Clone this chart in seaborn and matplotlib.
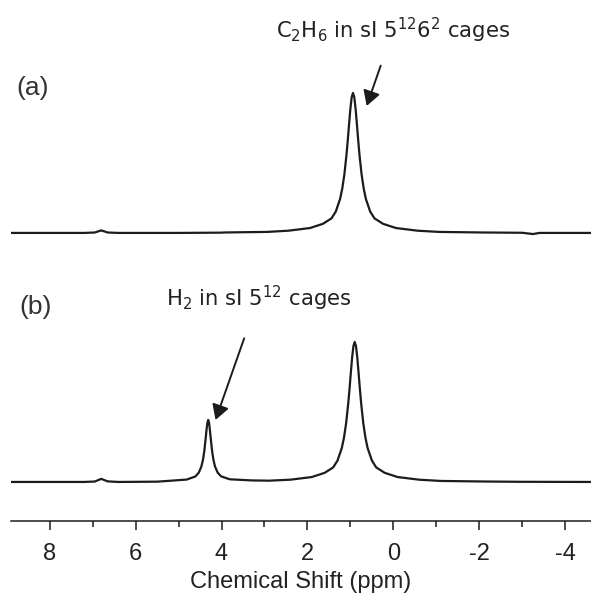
import numpy as np
import pandas as pd
import matplotlib.pyplot as plt
from matplotlib.ticker import MultipleLocator
import seaborn as sns

sns.set_style("ticks")
plt.rcParams["font.family"] = ["Liberation Sans", "DejaVu Sans"]
plt.rcParams["mathtext.default"] = "regular"

# spectrum (a): C2H6 only, intensities relative to the main peak
ppm_a = [8.9, 8.0, 7.2, 6.95, 6.8, 6.65, 6.4, 5.0, 4.0, 3.94, 2.94, 2.44, 1.94,
         1.64, 1.44, 1.34, 1.24, 1.19, 1.14, 1.09, 1.06, 1.03, 1.00, 0.97, 0.94,
         0.91, 0.88, 0.85, 0.82, 0.79, 0.74, 0.69, 0.64, 0.54, 0.44, 0.24,
         -0.06, -0.56, -1.06, -2.06, -3.0, -3.25, -3.4, -4.6]
int_a = [0.0, 0.0, 0.0, 0.003, 0.018, 0.003, 0.0, 0.0, 0.002, 0.0032, 0.0072, 0.016, 0.035,
         0.065, 0.104, 0.153, 0.243, 0.316, 0.419, 0.562, 0.667, 0.781, 0.889, 0.970, 1.0,
         0.970, 0.889, 0.781, 0.667, 0.562, 0.419, 0.316, 0.243, 0.153, 0.104, 0.065,
         0.035, 0.016, 0.0072, 0.0032, 0.001, -0.008, 0.0, 0.0]

# spectrum (b): H2 + C2H6
ppm_b = [8.9, 8.0, 7.2, 6.95, 6.8, 6.65, 6.4, 5.5, 5.31, 4.81, 4.61, 4.53, 4.47,
         4.43, 4.40, 4.37, 4.35, 4.33, 4.31, 4.29, 4.27, 4.25, 4.22, 4.19, 4.15,
         4.09, 4.01, 3.81, 3.31, 2.90, 2.40, 1.90, 1.60, 1.40, 1.30, 1.20, 1.15,
         1.10, 1.05, 1.02, 0.99, 0.96, 0.93, 0.90, 0.87, 0.84, 0.81, 0.78, 0.75,
         0.70, 0.65, 0.60, 0.50, 0.40, 0.20, -0.10, -0.60, -1.10, -2.10, -3.0, -4.6]
int_b = [0.0, 0.0, 0.0, 0.003, 0.022, 0.004, 0.0, 0.002, 0.006, 0.017, 0.039, 0.066, 0.109,
         0.161, 0.223, 0.308, 0.370, 0.422, 0.443, 0.422, 0.370, 0.308, 0.223, 0.161, 0.109,
         0.067, 0.040, 0.019, 0.011, 0.009, 0.016, 0.035, 0.065, 0.104, 0.153, 0.243, 0.316,
         0.419, 0.562, 0.667, 0.781, 0.889, 0.970, 1.0, 0.970, 0.889, 0.781, 0.667, 0.562,
         0.419, 0.316, 0.243, 0.153, 0.104, 0.065, 0.035, 0.016, 0.0072, 0.0032, 0.001, 0.0]

major_ticks = [8, 6, 4, 2, 0, -2, -4]

offsets = {"(a)": 1.779, "(b)": 0.0}

df = pd.concat([
    pd.DataFrame({"ppm": ppm_a, "intensity": int_a, "trace": "(a)"}),
    pd.DataFrame({"ppm": ppm_b, "intensity": int_b, "trace": "(b)"}),
])
df["shifted"] = df["intensity"] + df["trace"].map(offsets)

ink = "#1c1c1c"
fig = plt.figure(figsize=(5.91, 6.02), dpi=100)
ax = fig.add_axes([11 / 591, 81 / 602, 580 / 591, 521 / 602])

sns.lineplot(data=df, x="ppm", y="shifted", hue="trace", palette={"(a)": ink, "(b)": ink},
             estimator=None, legend=False, lw=1.6, ax=ax)

ax.set_xlim(8.9, -4.6)
ax.set_ylim(-0.279, 3.443)
sns.despine(ax=ax, left=True, top=True, right=True)
ax.spines["bottom"].set_linewidth(1.1)
ax.spines["bottom"].set_color(ink)
ax.set_yticks([])
ax.set_ylabel("")
ax.set_xticks(major_ticks)
ax.set_xticklabels([str(t) for t in major_ticks])
ax.xaxis.set_minor_locator(MultipleLocator(1))
ax.tick_params(axis="x", which="major", length=6.5, width=1.1, color=ink,
               labelsize=17, pad=9, labelcolor="#222222")
ax.tick_params(axis="x", which="minor", length=4.3, width=1.1, color=ink)
ax.set_xlabel("Chemical Shift (ppm)", fontsize=17, color="#222222", labelpad=5)

# panel labels
ax.text(8.77, 2.814, "(a)", fontsize=19, color="#333333", va="center", ha="left")
ax.text(8.70, 1.25, "(b)", fontsize=19, color="#333333", va="center", ha="left")

# peak annotations
ax.text(2.74, 3.171, r"C$_2$H$_6$ in sI 5$^{12}$6$^2$ cages", family="DejaVu Sans",
        fontsize=15.2, color="#222222", ha="left", va="baseline")
ax.text(5.281, 1.252, r"H$_2$ in sI 5$^{12}$ cages", family="DejaVu Sans",
        fontsize=15.2, color="#222222", ha="left", va="baseline")

arrow = dict(arrowstyle="-|>,head_length=0.45,head_width=0.26", color=ink, lw=1.4,
             mutation_scale=20, shrinkA=0, shrinkB=0)
ax.annotate("", xy=(0.621, 2.686), xytext=(0.295, 2.974), arrowprops=arrow)
ax.annotate("", xy=(4.139, 0.443), xytext=(3.473, 1.026), arrowprops=arrow)

fig.savefig("out.png", dpi=100)
